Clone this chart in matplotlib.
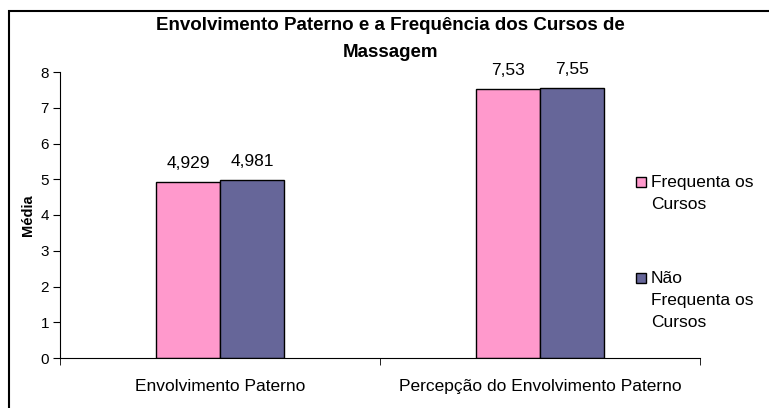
import matplotlib
matplotlib.use("Agg")
import matplotlib.pyplot as plt
from matplotlib.patches import Rectangle
import numpy as np

plt.rcParams['font.family'] = ['Liberation Sans', 'DejaVu Sans']

categorias = ["Envolvimento Paterno", "Percepção do Envolvimento Paterno"]
series = ["Frequenta os\nCursos", "Não\nFrequenta os\nCursos"]
frequenta = [4.929, 7.53]
nao_frequenta = [4.981, 7.55]
rotulos_freq = ["4,929", "7,53"]
rotulos_nao = ["4,981", "7,55"]
cores = ["#FF99CC", "#666699"]

fig = plt.figure(figsize=(7.69, 4.08), dpi=100)
ax = fig.add_axes([60 / 769, 1 - 358 / 408, 640 / 769, 286 / 408])

x = np.arange(len(categorias))
w = 0.2
b1 = ax.bar(x - w / 2, frequenta, w, color=cores[0], edgecolor="black", linewidth=1)
b2 = ax.bar(x + w / 2, nao_frequenta, w, color=cores[1], edgecolor="black", linewidth=1)

for barras, rot in ((b1, rotulos_freq), (b2, rotulos_nao)):
    for b, r in zip(barras, rot):
        ax.annotate(r, (b.get_x() + b.get_width() / 2, b.get_height()),
                    xytext=(0, 10), textcoords="offset points",
                    ha="center", va="baseline", fontsize=12.5)

ax.set_xlim(-0.5, len(categorias) - 0.5)
ax.set_ylim(0, 8)
ax.set_yticks(range(0, 9))
ax.set_xticks(x)
ax.set_xticklabels(categorias, fontsize=12.5)
ax.set_xticks(np.arange(-0.5, len(categorias)), minor=True)
ax.tick_params(axis="x", which="major", length=0, pad=15)
ax.tick_params(axis="x", which="minor", length=5, direction="out")
ax.tick_params(axis="y", length=5, direction="out", labelsize=11, pad=3)
ax.spines["top"].set_visible(False)
ax.spines["right"].set_visible(False)
ax.set_ylabel("Média", fontsize=10.5, fontweight="bold", labelpad=4)

fig.text(390 / 769, 1 - 39 / 408, "Envolvimento Paterno e a Frequência dos Cursos de\nMassagem",
         ha="center", va="center", fontsize=13.5, fontweight="bold", linespacing=1.7)

# legenda desenhada a mao
leg_y = [182, 278]
for cor, nome, yy in zip(cores, series, leg_y):
    fig.patches.append(Rectangle((636 / 769, 1 - (yy + 5) / 408), 10 / 769, 10 / 408,
                                 transform=fig.transFigure, facecolor=cor,
                                 edgecolor="black", linewidth=1))
    fig.text(651 / 769, 1 - (yy - 7) / 408, nome, ha="left", va="top",
             fontsize=12.5, linespacing=1.6)

# moldura
fig.patches.append(Rectangle((9 / 769, -0.2), 1.2, 1.2 - 11 / 408,
                             transform=fig.transFigure, fill=False,
                             edgecolor="black", linewidth=1.5))

fig.savefig("out.png", dpi=100)
